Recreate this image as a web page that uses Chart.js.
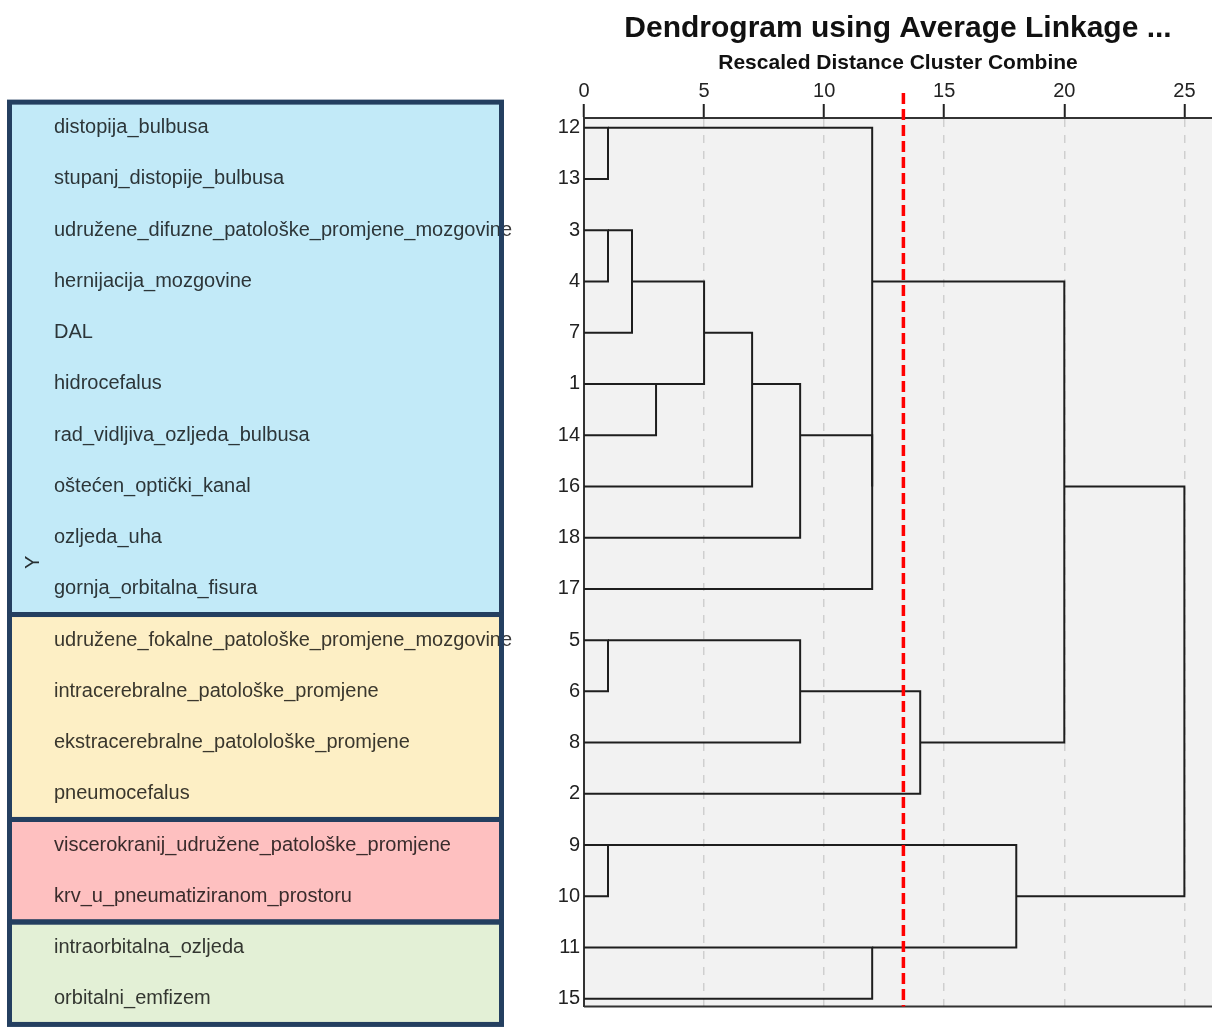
<!DOCTYPE html>
<html lang="hr">
<head>
    <meta charset="UTF-8">
    <title>Dendrogram using Average Linkage</title>
    <script src="https://cdn.jsdelivr.net/npm/chart.js"></script>
    <style>
        body {
            margin: 0;
            background-color: white;
        }
        #wrap {
            width: 1212px;
            height: 1028px;
            position: relative;
        }
    </style>
</head>
<body>
    <div id="wrap"><canvas id="dendro"></canvas></div>

    <script>
        // leaf order top to bottom (case numbers)
        const caseOrder = [12, 13, 3, 4, 7, 1, 14, 16, 18, 17, 5, 6, 8, 2, 9, 10, 11, 15];

        // variable names in the same order
        const variableNames = [
            'distopija_bulbusa',
            'stupanj_distopije_bulbusa',
            'udružene_difuzne_patološke_promjene_mozgovine',
            'hernijacija_mozgovine',
            'DAL',
            'hidrocefalus',
            'rad_vidljiva_ozljeda_bulbusa',
            'oštećen_optički_kanal',
            'ozljeda_uha',
            'gornja_orbitalna_fisura',
            'udružene_fokalne_patološke_promjene_mozgovine',
            'intracerebralne_patološke_promjene',
            'ekstracerebralne_patolološke_promjene',
            'pneumocefalus',
            'viscerokranij_udružene_patološke_promjene',
            'krv_u_pneumatiziranom_prostoru',
            'intraorbitalna_ozljeda',
            'orbitalni_emfizem'
        ];

        // agglomeration schedule: [cluster kept, cluster joined, rescaled distance]
        const schedule = [
            [12, 13, 1], [3, 4, 1], [5, 6, 1], [9, 10, 1],
            [3, 7, 2], [1, 14, 3], [1, 3, 5], [1, 16, 7],
            [1, 18, 9], [5, 8, 9], [1, 17, 12], [1, 12, 12],
            [11, 15, 12], [2, 5, 14], [9, 11, 18], [1, 2, 20],
            [1, 9, 25]
        ];

        const xTicks = [0, 5, 10, 15, 20, 25];
        const cutDistance = 13.3;

        // coloured groups of variables (number of rows in each)
        const groupSizes = [10, 4, 2, 2];
        const groupColors = ['#c2eaf8', '#fdefc5', '#fec0c0', '#e3f0d6'];

        // build bracket polylines from the schedule
        const clusters = {};
        caseOrder.forEach((c, i) => { clusters[c] = { pos: i, h: 0 }; });
        const brackets = schedule.map(([a, b, d]) => {
            const A = clusters[a], B = clusters[b];
            const pts = [
                { x: A.h, y: A.pos }, { x: d, y: A.pos },
                { x: d, y: B.pos }, { x: B.h, y: B.pos }
            ];
            clusters[a] = { pos: Math.floor((A.pos + B.pos) / 2), h: d };
            delete clusters[b];
            return pts;
        });

        const datasets = brackets.map(pts => ({
            data: pts,
            showLine: true,
            pointRadius: 0,
            borderColor: '#1e1e1e',
            borderWidth: 2,
            tension: 0
        }));

        const plotBg = {
            id: 'plotBg',
            beforeDraw(chart) {
                const { ctx, chartArea: a } = chart;
                ctx.save();
                ctx.fillStyle = '#f2f2f2';
                ctx.fillRect(a.left, a.top, a.right - a.left, a.bottom - a.top);
                ctx.restore();
            }
        };

        const extras = {
            id: 'extras',
            afterDraw(chart) {
                const { ctx, chartArea: a } = chart;
                const xs = chart.scales.x, ys = chart.scales.y;
                ctx.save();

                // bottom frame line
                ctx.strokeStyle = '#333';
                ctx.lineWidth = 2;
                ctx.beginPath();
                ctx.moveTo(a.left, a.bottom);
                ctx.lineTo(a.right, a.bottom);
                ctx.stroke();

                // cut line
                const cx = xs.getPixelForValue(cutDistance);
                ctx.strokeStyle = '#ff0000';
                ctx.lineWidth = 3.5;
                ctx.setLineDash([11, 5]);
                ctx.beginPath();
                ctx.moveTo(cx, a.top - 25);
                ctx.lineTo(cx, a.bottom);
                ctx.stroke();
                ctx.setLineDash([]);

                // variable names
                ctx.font = '20px "Liberation Sans", Arial, sans-serif';
                ctx.fillStyle = '#3a3a3a';
                ctx.textBaseline = 'middle';
                ctx.textAlign = 'left';
                variableNames.forEach((name, i) => {
                    ctx.fillText(name, 54, ys.getPixelForValue(i));
                });

                // group boxes
                let start = 0;
                const bounds = groupSizes.map(n => {
                    const b = [ys.getPixelForValue(start - 0.5), ys.getPixelForValue(start + n - 0.5)];
                    start += n;
                    return b;
                });
                ctx.globalCompositeOperation = 'multiply';
                bounds.forEach(([t, b], i) => {
                    ctx.fillStyle = groupColors[i];
                    ctx.fillRect(9.5, t, 492, b - t);
                });
                ctx.globalCompositeOperation = 'source-over';
                ctx.strokeStyle = '#243f60';
                ctx.lineWidth = 5;
                bounds.forEach(([t, b]) => {
                    ctx.strokeRect(9.5, t, 492, b - t);
                });
                ctx.restore();
            }
        };

        new Chart(document.getElementById('dendro'), {
            type: 'scatter',
            data: { datasets: datasets },
            plugins: [plotBg, extras],
            options: {
                responsive: true,
                maintainAspectRatio: false,
                animation: false,
                layout: { padding: { top: 0, left: 0, right: 0, bottom: 21.5 } },
                font: { family: '"Liberation Sans", Arial, sans-serif' },
                plugins: {
                    legend: { display: false },
                    tooltip: { enabled: false },
                    title: {
                        display: true,
                        fullSize: false,
                        text: 'Dendrogram using Average Linkage ...',
                        color: '#111',
                        font: { size: 30, weight: 'bold', family: '"Liberation Sans", Arial, sans-serif' },
                        padding: { top: 11, bottom: 1 }
                    }
                },
                scales: {
                    x: {
                        type: 'linear',
                        position: 'top',
                        min: 0,
                        max: 26.15,
                        afterBuildTicks: s => { s.ticks = xTicks.map(v => ({ value: v })); },
                        afterFit: s => { s.height = 70; },
                        ticks: {
                            color: '#222',
                            padding: 1,
                            maxRotation: 0,
                            font: { size: 20, family: '"Liberation Sans", Arial, sans-serif' }
                        },
                        grid: {
                            color: c => (c.tick && c.tick.value === 0) ? 'rgba(0,0,0,0)' : '#cfcfcf',
                            lineWidth: 1.5,
                            tickColor: '#222',
                            tickWidth: 2,
                            tickLength: 14,
                            tickBorderDash: []
                        },
                        border: { display: true, color: '#333', width: 2, dash: [8, 8] },
                        title: {
                            display: true,
                            text: 'Rescaled Distance Cluster Combine',
                            color: '#111',
                            font: { size: 21, weight: 'bold', family: '"Liberation Sans", Arial, sans-serif' },
                            padding: { top: 3, bottom: 0 }
                        }
                    },
                    y: {
                        type: 'linear',
                        position: 'left',
                        reverse: true,
                        min: -0.19,
                        max: 17.15,
                        afterBuildTicks: s => { s.ticks = caseOrder.map((c, i) => ({ value: i })); },
                        afterFit: s => { s.width = 584; },
                        ticks: {
                            color: '#222',
                            padding: 4,
                            font: { size: 20, family: '"Liberation Sans", Arial, sans-serif' },
                            callback: v => caseOrder[v]
                        },
                        grid: { display: false, drawTicks: false },
                        border: { display: true, color: '#333', width: 2 },
                        title: {
                            display: true,
                            text: 'Y',
                            color: '#333',
                            font: { size: 20, family: '"Liberation Sans", Arial, sans-serif' },
                            padding: { top: 21, bottom: 0 }
                        }
                    }
                }
            }
        });
    </script>
</body>
</html>
